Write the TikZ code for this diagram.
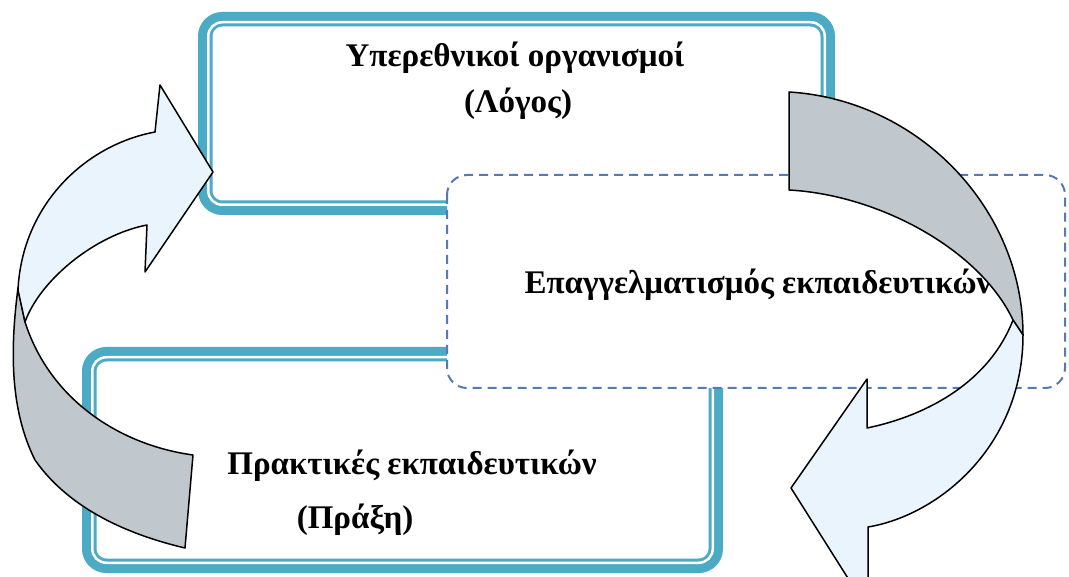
\documentclass[tikz,border=0pt]{standalone}
\usepackage{fontspec}
\setmainfont{Liberation Serif}
\definecolor{tealband}{RGB}{75,170,196}
\definecolor{lightfill}{RGB}{234,244,252}
\definecolor{grayfill}{RGB}{192,200,206}
\definecolor{dashblue}{RGB}{88,122,178}
\tikzset{
  bandthick/.style={draw=tealband, line width=14.5pt, rounded corners=17pt},
  bandwhite/.style={draw=white, line width=2.5pt, rounded corners=14pt},
  dashbox/.style={draw=dashblue, fill=white, line width=2pt, dash pattern=on 9pt off 6pt, rounded corners=20pt},
  lbl/.style={font=\fontsize{33}{40}\selectfont\bfseries, inner sep=0pt, anchor=base},
  frontpart/.style={draw=black, fill=lightfill, line width=1.5pt, line join=round},
  backpart/.style={draw=black, fill=grayfill, line width=1.5pt, line join=round}
}
\begin{document}
\begin{tikzpicture}[x=1pt,y=-1pt]
\useasboundingbox (0,0) rectangle (1069,577);
\fill[white] (0,0) rectangle (1069,577);
% top box
\draw[bandthick] (205.25,19.25) rectangle (827.75,207.75);
\draw[bandwhite] (208.25,22.25) rectangle (824.75,204.75);
% bottom box
\draw[bandthick] (89.25,354.25) rectangle (715.75,565.75);
\draw[bandwhite] (92.25,357.25) rectangle (712.75,562.75);
% dashed box
\draw[dashbox] (447,175) rectangle (1065,388);
% texts
\node[lbl] (supra) at (515,67) {Υπερεθνικοί οργανισμοί};
\node[lbl] (logos) at (518,113) {(Λόγος)};
\node[lbl] (prof) at (758,294) {Επαγγελματισμός εκπαιδευτικών};
\node[lbl] (pract) at (412,475) {Πρακτικές εκπαιδευτικών};
\node[lbl] (praxi) at (355,528) {(Πράξη)};
% arrows
\begin{scope}
\clip (0,0) rectangle (1069,577);
% left arrow: back (gray) part
\draw[backpart] (18,288) .. controls (10,350) and (10,410) .. (35,460)
  .. controls (70,510) and (130,535) .. (185,548)
  -- (193,455)
  .. controls (120,445) and (50,400) .. (25,322) -- cycle;
% left arrow: front part
\draw[frontpart] (155,132) .. controls (85,145) and (22,205) .. (18,290)
  -- (25,322)
  .. controls (40,280) and (95,235) .. (147,225)
  -- (145,272) -- (213,172) -- (160,85) -- cycle;
% right arrow: back part
\draw[backpart] (789,92) .. controls (920,100) and (1023,210) .. (1023,335)
  -- (1013,320)
  .. controls (980,250) and (880,195) .. (789,190) -- cycle;
% right arrow: front part
\draw[frontpart] (1013,320) -- (1023,335)
  .. controls (1023,445) and (940,515) .. (868,527)
  -- (868,610) -- (791,488) -- (867,379) -- (867,428)
  .. controls (930,415) and (990,380) .. (1013,320) -- cycle;
\end{scope}
\end{tikzpicture}
\end{document}
